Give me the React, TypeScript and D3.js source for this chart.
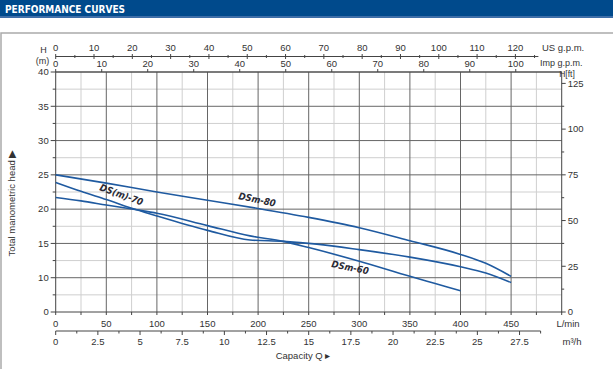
import React from 'react';
import * as d3 from 'd3';

// left axis labels (equally spaced on the sheet, note the missing 5)
const headTicks = [0, 10, 15, 20, 25, 30, 35, 40];
const ftTicks = [0, 25, 50, 75, 100, 125];
const lminTicks = [0, 50, 100, 150, 200, 250, 300, 350, 400, 450];
const m3hTicks = [0, 2.5, 5, 7.5, 10, 12.5, 15, 17.5, 20, 22.5, 25, 27.5];
const usTicks = [0, 10, 20, 30, 40, 50, 60, 70, 80, 90, 100, 110, 120];
const impTicks = [0, 10, 20, 30, 40, 50, 60, 70, 80, 90, 100];

// curves, flow in L/min, head in m
const dsm80Flow = [0, 50, 100, 150, 200, 250, 300, 350, 400, 425, 450];
const dsm80Head = [25, 23.8, 22.5, 21.3, 20.1, 18.8, 17.3, 15.4, 13.4, 12.1, 10.2];
const ds70Flow = [0, 25, 50, 80, 100, 150, 192, 225, 258, 300, 350, 400, 425, 450];
const ds70Head = [23.9, 22.6, 21.4, 19.9, 19.0, 16.9, 15.5, 15.3, 14.9, 14.1, 13.0, 11.6, 10.7, 8.6];
const dsm60Flow = [0, 25, 50, 80, 100, 150, 192, 225, 250, 300, 350, 375, 400];
const dsm60Head = [21.7, 21.2, 20.6, 19.9, 19.4, 17.6, 16.1, 15.3, 14.4, 12.4, 10.2, 8.3, 6.2];

const curves = [
  { name: 'DSm-80', flow: dsm80Flow, head: dsm80Head, at: [199, 21.4], rot: 12 },
  { name: 'DS(m)-70', flow: ds70Flow, head: ds70Head, at: [65, 22.1], rot: 20 },
  { name: 'DSm-60', flow: dsm60Flow, head: dsm60Head, at: [291, 11.5], rot: 11 },
];

const W = 613, H = 369;
const left = 55.7, right = 561.7, top = 72, bottom = 312;
const step = (bottom - top) / (headTicks.length - 1);

const App = () => {
  const x = d3.scaleLinear().domain([0, 500]).range([left, right]);
  // piecewise scale so the curves follow the printed grid
  const y = d3.scaleLinear().domain(headTicks).range(headTicks.map((_, i) => bottom - i * step));
  const yFt = d3.scaleLinear().domain([0, 40 * 3.28084]).range([bottom, top]);
  const xUs = (v: number) => x(v * 3.78541);
  const xImp = (v: number) => x(v * 4.54609);
  const xM3 = (v: number) => x(v * 1000 / 60);

  const line = d3.line<[number, number]>()
    .x(d => x(d[0]))
    .y(d => y(d[1]))
    .curve(d3.curveMonotoneX);

  const font = 'Liberation Sans, Arial, sans-serif';
  const tc = '#333';
  const minorV = d3.range(25, 500, 50);
  const majorV = d3.range(50, 500, 50);
  const minorH = headTicks.slice(0, -1).map((_, i) => bottom - (i + 0.5) * step);

  return (
    <div style={{ position: 'fixed', left: 0, top: 0 }}>
      <svg width={W} height={H} style={{ display: 'block', background: '#fff' }}>
        <rect x={0} y={0} width={W} height={16} fill="#004a8c" />
        <rect x={0} y={16} width={W} height={2} fill="#3e6ea8" />
        <text x={5} y={12.5} fill="#fff" fontFamily="DejaVu Sans Condensed, Liberation Sans Narrow, sans-serif"
          fontWeight="bold" fontSize={11} textLength={120} lengthAdjust="spacingAndGlyphs">PERFORMANCE CURVES</text>
        <rect x={1} y={33} width={W + 10} height={H} fill="none" stroke="#aaa" strokeWidth={1.5} />

        {/* grid */}
        {minorV.map(v => <line key={'mv' + v} x1={x(v)} x2={x(v)} y1={top} y2={bottom} stroke="#cfcfcf" />)}
        {minorH.map((p, i) => <line key={'mh' + i} x1={left} x2={right} y1={p} y2={p} stroke="#cfcfcf" />)}
        {majorV.map(v => <line key={'Mv' + v} x1={x(v)} x2={x(v)} y1={top} y2={bottom} stroke="#666" />)}
        {headTicks.slice(1).map(v => <line key={'Mh' + v} x1={left} x2={right} y1={y(v)} y2={y(v)} stroke="#666" />)}
        <rect x={left} y={top} width={right - left} height={bottom - top} fill="none" stroke="#444" />

        {/* left axis */}
        {headTicks.map(v => (
          <g key={'l' + v}>
            <line x1={left - 5} x2={left} y1={y(v)} y2={y(v)} stroke="#444" />
            <text x={left - 7} y={y(v)} dy="0.35em" textAnchor="end" fontFamily={font} fontSize={9.5} fill={tc}>{v}</text>
          </g>
        ))}
        {minorH.map((p, i) => <line key={'lm' + i} x1={left - 3} x2={left} y1={p} y2={p} stroke="#444" />)}
        <text x={43.5} y={53} textAnchor="middle" fontFamily={font} fontSize={9} fill={tc}>H</text>
        <text x={42.5} y={63.5} textAnchor="middle" fontFamily={font} fontSize={9} fill={tc}>(m)</text>
        <text transform="translate(15,203) rotate(-90)" textAnchor="middle" fontFamily={font} fontSize={9.5} fill={tc}>Total manometric head {'\u25B6'}</text>

        {/* right axis ft */}
        {d3.range(0, 131, 12.5).map(v => (
          <line key={'r' + v} x1={right} x2={right + (v % 25 === 0 ? 4 : 2.5)} y1={yFt(v)} y2={yFt(v)} stroke="#444" />
        ))}
        {ftTicks.map(v => (
          <text key={'rt' + v} x={right + 6} y={yFt(v)} dy="0.35em" fontFamily={font} fontSize={9.5} fill={tc}>{v}</text>
        ))}
        <text x={567} y={77} textAnchor="middle" fontFamily={font} fontSize={8.5} fill={tc}>H[ft]</text>

        {/* top US gpm axis */}
        <line x1={left} x2={xUs(126)} y1={56.5} y2={56.5} stroke="#444" />
        {d3.range(0, 126, 5).map(v => (
          <line key={'u' + v} x1={xUs(v)} x2={xUs(v)} y1={v % 10 === 0 ? 54 : 55} y2={v % 10 === 0 ? 59 : 58} stroke="#444" />
        ))}
        {usTicks.map(v => (
          <text key={'ut' + v} x={xUs(v)} y={50.5} textAnchor="middle" fontFamily={font} fontSize={9.5} fill={tc}>{v}</text>
        ))}
        <text x={542} y={50.5} fontFamily={font} fontSize={9.5} fill={tc}>US g.p.m.</text>

        {/* top Imp gpm axis on the frame */}
        {impTicks.map(v => (
          <g key={'i' + v}>
            <line x1={xImp(v)} x2={xImp(v)} y1={top - 3} y2={top} stroke="#444" />
            <text x={xImp(v)} y={67} textAnchor="middle" fontFamily={font} fontSize={9.5} fill={tc}>{v}</text>
          </g>
        ))}
        <text x={540} y={66} fontFamily={font} fontSize={9} fill={tc}>Imp g.p.m.</text>

        {/* bottom L/min axis */}
        {d3.range(0, 501, 25).map(v => (
          <line key={'b' + v} x1={x(v)} x2={x(v)} y1={bottom} y2={bottom + 3} stroke="#444" />
        ))}
        {lminTicks.map(v => (
          <text key={'bt' + v} x={x(v)} y={326.5} textAnchor="middle" fontFamily={font} fontSize={9.5} fill={tc}>{v}</text>
        ))}
        <text x={568} y={326.5} textAnchor="middle" fontFamily={font} fontSize={9.5} fill={tc}>L/min</text>

        {/* m3/h axis */}
        <line x1={left} x2={xM3(28.75)} y1={331} y2={331} stroke="#444" />
        {d3.range(0, 28.8, 1.25).map(v => (
          <line key={'m' + v} x1={xM3(v)} x2={xM3(v)} y1={331} y2={v % 2.5 === 0 ? 335 : 333.5} stroke="#444" />
        ))}
        {m3hTicks.map(v => (
          <text key={'mt' + v} x={xM3(v)} y={344.5} textAnchor="middle" fontFamily={font} fontSize={9.5} fill={tc}>{v}</text>
        ))}
        <text x={572} y={344.5} textAnchor="middle" fontFamily={font} fontSize={9.5} fill={tc}>m³/h</text>
        <text x={303} y={359} textAnchor="middle" fontFamily={font} fontSize={9.5} fill={tc}>Capacity Q  {'\u25B8'}</text>

        {/* curves */}
        {curves.map(c => (
          <path key={c.name} d={line(c.flow.map((f, i) => [f, c.head[i]] as [number, number])) || ''}
            fill="none" stroke="#1f5aa0" strokeWidth={1.6} />
        ))}
        {curves.map(c => (
          <text key={'t' + c.name} transform={`translate(${x(c.at[0])},${y(c.at[1])}) rotate(${c.rot})`}
            textAnchor="middle" dy="0.35em" fontFamily="DejaVu Sans Condensed, sans-serif" fontWeight="bold"
            fontStyle="italic" fontSize={9.5} fill="#2a2a35">{c.name}</text>
        ))}
      </svg>
    </div>
  );
};

export default App;
